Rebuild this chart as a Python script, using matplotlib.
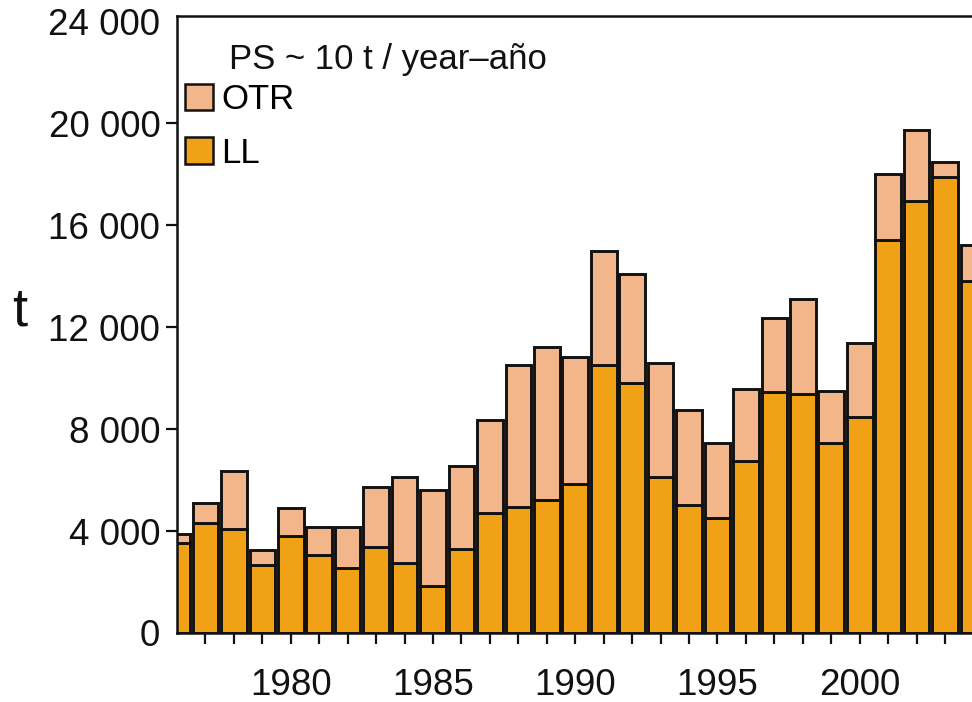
import matplotlib
matplotlib.use("Agg")
import matplotlib.pyplot as plt
from matplotlib.patches import Patch

plt.rcParams["font.family"] = ["Liberation Sans", "DejaVu Sans"]

# ---------------- data (t) ----------------
years = list(range(1976, 2005))
ll = [3520, 4300, 4090, 2670, 3800, 3060, 2560, 3380, 2760, 1840,
      3280, 4690, 4930, 5210, 5830, 10510, 9810, 6130, 5020, 4500,
      6740, 9470, 9390, 7450, 8470, 15430, 16960, 17890, 13790]
otr = [350, 810, 2260, 580, 1110, 1110, 1610, 2360, 3370, 3770,
       3270, 3660, 5600, 6010, 5000, 4480, 4260, 4470, 3720, 2940,
       2830, 2900, 3700, 2050, 2890, 2570, 2760, 600, 1430]

ytick_vals = [0, 4000, 8000, 12000, 16000, 20000, 24000]
ytick_labels = ["0", "4 000", "8 000", "12 000", "16 000", "20 000", "24 000"]
xtick_major = [1980, 1985, 1990, 1995, 2000]

c_ll = "#F0A115"
c_otr = "#F2B68A"
c_edge = "#111111"

# ---------------- figure ----------------
fig = plt.figure(figsize=(9.72, 7.02), dpi=100)
# axes runs past the right edge, like the cropped original
ax = fig.add_axes([177 / 972, 69 / 702, 815 / 972, 617 / 702])

ax.bar(years, ll, width=0.9, color=c_ll, edgecolor=c_edge, linewidth=2.1)
ax.bar(years, otr, bottom=ll, width=0.9, color=c_otr, edgecolor=c_edge, linewidth=2.1)

ax.set_xlim(1976.0, 2004.65)
ax.set_ylim(0, 24200)

for s in ["left", "top", "bottom", "right"]:
    ax.spines[s].set_linewidth(1.8)
    ax.spines[s].set_color(c_edge)
    ax.spines[s].set_zorder(5)

ax.set_yticks(ytick_vals)
ax.set_yticklabels(ytick_labels)
xt = years[1:]
ax.set_xticks(xt)
ax.set_xticklabels([str(y) if y in xtick_major else "" for y in xt])
ax.tick_params(axis="both", direction="out", length=8, width=1.6, color=c_edge,
               labelsize=26.5, labelcolor="#111111")
ax.tick_params(axis="x", pad=17)
ax.tick_params(axis="y", pad=4)
yt = ax.yaxis.get_major_ticks()
yt[0].tick1line.set_visible(False)
yt[-1].tick1line.set_visible(False)

fig.text(20 / 972, 1 - 311 / 702, "t", fontsize=39, ha="center", va="center",
         color="#111111")

# legend
handles = [Patch(facecolor=c_otr, edgecolor=c_edge, linewidth=1.8),
           Patch(facecolor=c_ll, edgecolor=c_edge, linewidth=1.8)]
ax.legend(handles, ["OTR", "LL"], loc="upper left",
          bbox_to_anchor=(8 / 815, 1 - 67 / 617), frameon=False,
          fontsize=25, handlelength=0.8, handleheight=0.8,
          handletextpad=0.25, labelspacing=0.6, borderaxespad=0,
          borderpad=0)
ax.text(52 / 815, 1 - 43 / 617, "PS ~ 10 t / year\u2013año", transform=ax.transAxes,
        fontsize=25, ha="left", va="center", color="#111111")

fig.savefig("out.png", dpi=100, facecolor="white")
